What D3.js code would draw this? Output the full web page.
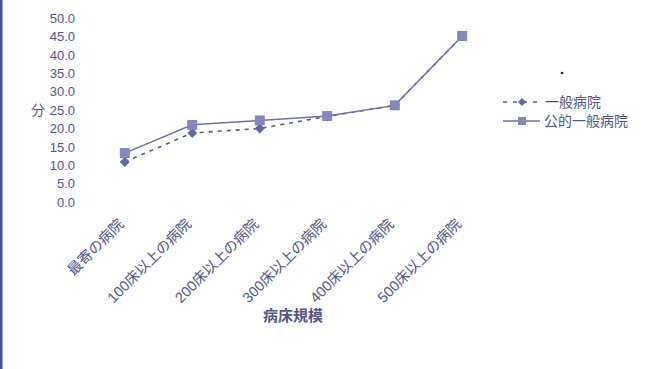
<!DOCTYPE html>
<html><head><meta charset="utf-8">
<script src="https://cdn.jsdelivr.net/npm/d3@7"></script>
<style>
html,body{margin:0;padding:0;background:#fff;}
text{font-family:"Liberation Sans","Noto Sans CJK JP",sans-serif;fill:#52558a;}
</style></head><body>
<svg id="c" width="647" height="369"></svg>
<script>
const categories = ["最寄の病院","100床以上の病院","200床以上の病院","300床以上の病院","400床以上の病院","500床以上の病院"];
const generalValues = [10.9, 18.8, 20.0, 23.3, 26.3, 45.2];
const publicValues  = [13.3, 21.0, 22.2, 23.4, 26.3, 45.2];
const seriesNames = ["一般病院","公的一般病院"];
const yTicks = [0,5,10,15,20,25,30,35,40,45,50];

const svg = d3.select("#c");
const lineColor = "#6d70a8", markColor = "#8587bd";

// left border
svg.append("rect").attr("x",0).attr("y",0).attr("width",2.5).attr("height",369).attr("fill","#4b4f8c");

const x = d3.scaleBand().domain(categories).range([91,496]);
const y = d3.scaleLinear().domain([0,50]).range([202,18.3]);

// faint axes
const ya = svg.append("g").attr("transform","translate(91,0)")
  .call(d3.axisLeft(y).tickValues(yTicks).tickFormat(d3.format(".1f")).tickSize(0).tickPadding(16));
ya.select(".domain").attr("stroke","#e4e4ee").attr("stroke-dasharray","1,8");
ya.selectAll("text").attr("font-size",13).style("fill","#52558a");

const xa = svg.append("g").attr("transform","translate(0,200)")
  .call(d3.axisBottom(x).tickSize(0).tickFormat(""));
xa.select(".domain").attr("stroke","#f0f0f4").attr("stroke-dasharray","1,6");

// category labels
svg.append("g").selectAll("text").data(categories).join("text")
  .attr("transform", d => `translate(${x(d)+x.bandwidth()/2},225) rotate(-45)`)
  .attr("text-anchor","end").attr("font-size",14.5).text(d=>d);

// axis titles
svg.append("text").attr("x",38).attr("y",115).attr("text-anchor","middle").attr("font-size",14).text("分");
svg.append("text").attr("x",293).attr("y",321).attr("text-anchor","middle").attr("font-size",15).attr("font-weight","bold").text("病床規模");

const cx = d => x(d)+x.bandwidth()/2;
const line = d3.line().x((d,i)=>cx(categories[i])).y(d=>y(d));

svg.append("path").datum(generalValues).attr("d",line).attr("fill","none")
  .attr("stroke","#555a94").attr("stroke-width",1.6).attr("stroke-dasharray","4,5");
svg.append("path").datum(publicValues).attr("d",line).attr("fill","none")
  .attr("stroke",lineColor).attr("stroke-width",1.5);

const diamond = "M0,-5L5,0L0,5L-5,0Z";
svg.append("g").selectAll("path").data(generalValues).join("path")
  .attr("transform",(d,i)=>`translate(${cx(categories[i])},${y(d)})`)
  .attr("d",diamond).attr("fill","#6366a2");
svg.append("g").selectAll("rect").data(publicValues).join("rect")
  .attr("x",(d,i)=>cx(categories[i])-4.5).attr("y",d=>y(d)-4.5)
  .attr("width",9).attr("height",9).attr("fill",markColor).attr("stroke","#7679b2").attr("stroke-width",0.8);

// legend
const lg = svg.append("g");
lg.append("line").attr("x1",503).attr("x2",540).attr("y1",102).attr("y2",102)
  .attr("stroke","#555a94").attr("stroke-width",1.6).attr("stroke-dasharray","4,6");
lg.append("path").attr("transform","translate(522,102)").attr("d","M0,-4L4,0L0,4L-4,0Z").attr("fill","#6366a2");
lg.append("text").attr("x",545).attr("y",107).attr("font-size",14).text(seriesNames[0]);
lg.append("line").attr("x1",503).attr("x2",540).attr("y1",121).attr("y2",121)
  .attr("stroke",lineColor).attr("stroke-width",1.5);
lg.append("rect").attr("x",518).attr("y",117).attr("width",8).attr("height",8).attr("fill",markColor);
lg.append("text").attr("x",544).attr("y",126).attr("font-size",14).text(seriesNames[1]);
svg.append("circle").attr("cx",562).attr("cy",73).attr("r",1.3).attr("fill","#222");
</script></body></html>
